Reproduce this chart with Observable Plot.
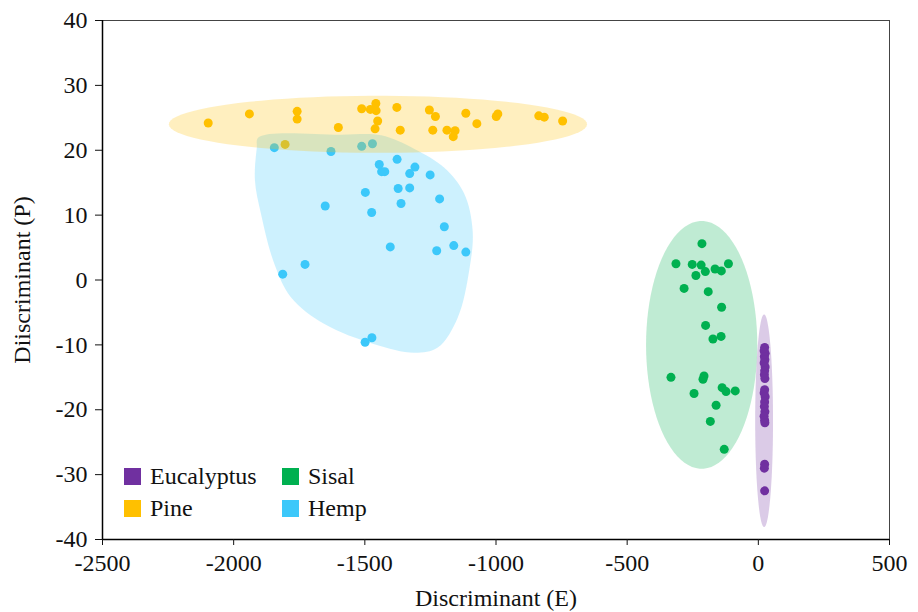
<!DOCTYPE html>
<html>
<head>
<meta charset="utf-8">
<script src="https://cdn.jsdelivr.net/npm/d3@7"></script>
<script src="https://cdn.jsdelivr.net/npm/@observablehq/plot@0.6"></script>
<style>
  html, body { margin: 0; padding: 0; background: #fff; }
  #wrap { position: relative; width: 918px; height: 612px; font-family: "Liberation Serif", "Times New Roman", serif; }
  #legend { position: absolute; left: 124px; top: 465px; display: grid; grid-template-columns: 158px auto; row-gap: 10px; font-size: 24px; color: #111; }
  .item { display: flex; align-items: center; height: 22px; }
  .sw { width: 17px; height: 17px; margin-right: 9px; }
</style>
</head>
<body>
<div id="wrap"><div id="legend"></div></div>
<script>
// ---- Data ----
const series = ["Eucalyptus", "Pine", "Sisal", "Hemp"];
const colors = ["#7030A0", "#FFC000", "#00B050", "#3CC8FA"];
const legendOrder = ["Eucalyptus", "Sisal", "Pine", "Hemp"];
const xTicks = [-2500, -2000, -1500, -1000, -500, 0, 500];
const yTicks = [-40, -30, -20, -10, 0, 10, 20, 30, 40];

const eucalyptus = [
  [24, -10.4], [22, -10.9], [26, -11.3], [23, -11.8], [25, -12.3], [22, -12.8], [26, -13.4],
  [24, -14.0], [23, -14.6], [25, -15.2], [24, -16.9], [22, -17.4], [26, -18.0], [24, -18.8],
  [23, -19.5], [25, -20.3], [22, -21.0], [24, -21.6], [25, -22.0], [24, -28.4], [23, -29.0], [24, -32.5]
];
const pine = [
  [-2097, 24.2], [-1940, 25.6], [-1758, 26.0], [-1758, 24.8], [-1601, 23.5], [-1512, 26.4],
  [-1479, 26.3], [-1458, 27.2], [-1457, 26.1], [-1451, 24.5], [-1461, 23.3], [-1378, 26.6],
  [-1365, 23.1], [-1254, 26.2], [-1231, 25.2], [-1241, 23.1], [-1187, 23.1], [-1156, 23.0],
  [-1163, 22.1], [-1115, 25.7], [-1073, 24.1], [-999, 25.2], [-993, 25.6], [-837, 25.3],
  [-816, 25.1], [-746, 24.5], [-1804, 20.9]
];
const sisal = [
  [-215, 5.6], [-314, 2.5], [-252, 2.4], [-218, 2.3], [-202, 1.3], [-238, 0.7], [-165, 1.7],
  [-141, 1.4], [-114, 2.5], [-283, -1.3], [-191, -1.8], [-140, -4.2], [-201, -7.0], [-173, -9.1],
  [-142, -8.7], [-333, -15.0], [-207, -14.8], [-211, -15.3], [-138, -16.6], [-123, -17.2],
  [-88, -17.1], [-245, -17.5], [-161, -19.3], [-183, -21.8], [-130, -26.1]
];
const hemp = [
  [-1845, 20.4], [-1629, 19.8], [-1512, 20.6], [-1471, 21.0], [-1377, 18.6], [-1445, 17.8],
  [-1436, 16.7], [-1424, 16.7], [-1309, 17.4], [-1329, 16.4], [-1251, 16.2], [-1498, 13.5],
  [-1373, 14.1], [-1329, 14.2], [-1215, 12.5], [-1651, 11.4], [-1474, 10.4], [-1362, 11.8],
  [-1197, 8.2], [-1403, 5.1], [-1226, 4.5], [-1161, 5.3], [-1115, 4.3], [-1728, 2.4],
  [-1813, 0.9], [-1473, -8.9], [-1499, -9.6]
];

// region outlines: ellipses [cx, cy, rx, ry] and a hand-traced hull for Hemp
const pineEllipse = [-1450, 24.0, 797, 4.4];
const sisalEllipse = [-216, -10.0, 212, 19.1];
const eucalyptusEllipse = [22, -21.7, 34, 16.4];
const hempHull = [
  [-1905, 22.0], [-1591, 22.4], [-1438, 22.3], [-1311, 20.2], [-1197, 17.3], [-1121, 13.3],
  [-1089, 7.6], [-1102, 1.5], [-1146, -5.8], [-1222, -10.4], [-1311, -11.2], [-1464, -9.9],
  [-1654, -6.8], [-1781, -2.7], [-1845, 2.5], [-1896, 10.2], [-1919, 15.4], [-1912, 20.3]
];

// ---- Build ----
const colorOf = Object.fromEntries(series.map((s, i) => [s, colors[i]]));
const pts = (arr, name) => arr.map(([x, y]) => ({x, y, name}));
const allPoints = [
  ...pts(eucalyptus, "Eucalyptus"), ...pts(pine, "Pine"),
  ...pts(sisal, "Sisal"), ...pts(hemp, "Hemp")
];
function ellipse([cx, cy, rx, ry]) {
  return d3.range(0, 360, 4).map(a => {
    const t = a * Math.PI / 180;
    return {x: cx + rx * Math.cos(t), y: cy + ry * Math.sin(t)};
  });
}
const hullPts = hempHull.map(([x, y]) => ({x, y}));
const fmt = d => String(d);
const font = "Liberation Serif, Times New Roman, serif";

const chart = Plot.plot({
  width: 918,
  height: 612,
  marginLeft: 102,
  marginRight: 29,
  marginTop: 20,
  marginBottom: 73,
  style: {fontFamily: font, fontSize: "24px", color: "#111", background: "#fff"},
  x: {domain: [-2500, 500]},
  y: {domain: [-40, 40]},
  marks: [
    Plot.dot(allPoints, {x: "x", y: "y", r: 4.5, fill: d => colorOf[d.name], stroke: "none"}),
    Plot.line(hullPts, {x: "x", y: "y", curve: "catmull-rom-closed", fill: colorOf.Hemp, fillOpacity: 0.26, stroke: "none"}),
    Plot.line(ellipse(pineEllipse), {x: "x", y: "y", curve: "linear-closed", fill: colorOf.Pine, fillOpacity: 0.25, stroke: "none"}),
    Plot.line(ellipse(sisalEllipse), {x: "x", y: "y", curve: "linear-closed", fill: colorOf.Sisal, fillOpacity: 0.25, stroke: "none"}),
    Plot.line(ellipse(eucalyptusEllipse), {x: "x", y: "y", curve: "linear-closed", fill: colorOf.Eucalyptus, fillOpacity: 0.25, stroke: "none"}),
    Plot.frame({stroke: "#444", strokeWidth: 1}),
    Plot.ruleX([-2500], {stroke: "#000", strokeWidth: 1.5}),
    Plot.ruleY([-40], {stroke: "#000", strokeWidth: 1.5}),
    Plot.axisX({ticks: xTicks, tickFormat: fmt, tickSize: 6, tickPadding: 8, fontSize: 24, label: null}),
    Plot.axisX({ticks: [], label: "Discriminant (E)", labelAnchor: "center", labelArrow: "none", labelOffset: 66, fontSize: 24}),
    Plot.axisY({ticks: yTicks, tickFormat: fmt, tickSize: 7, tickPadding: 8, fontSize: 24, label: null}),
    Plot.axisY({ticks: [], label: "Diiscriminant (P)", labelAnchor: "center", labelArrow: "none", labelOffset: 90, fontSize: 24})
  ]
});
const wrap = document.getElementById("wrap");
wrap.insertBefore(chart, wrap.firstChild);

const legend = document.getElementById("legend");
legendOrder.forEach(name => {
  const item = document.createElement("div");
  item.className = "item";
  const sw = document.createElement("span");
  sw.className = "sw";
  sw.style.background = colorOf[name];
  item.appendChild(sw);
  item.appendChild(document.createTextNode(name));
  legend.appendChild(item);
});
</script>
</body>
</html>
